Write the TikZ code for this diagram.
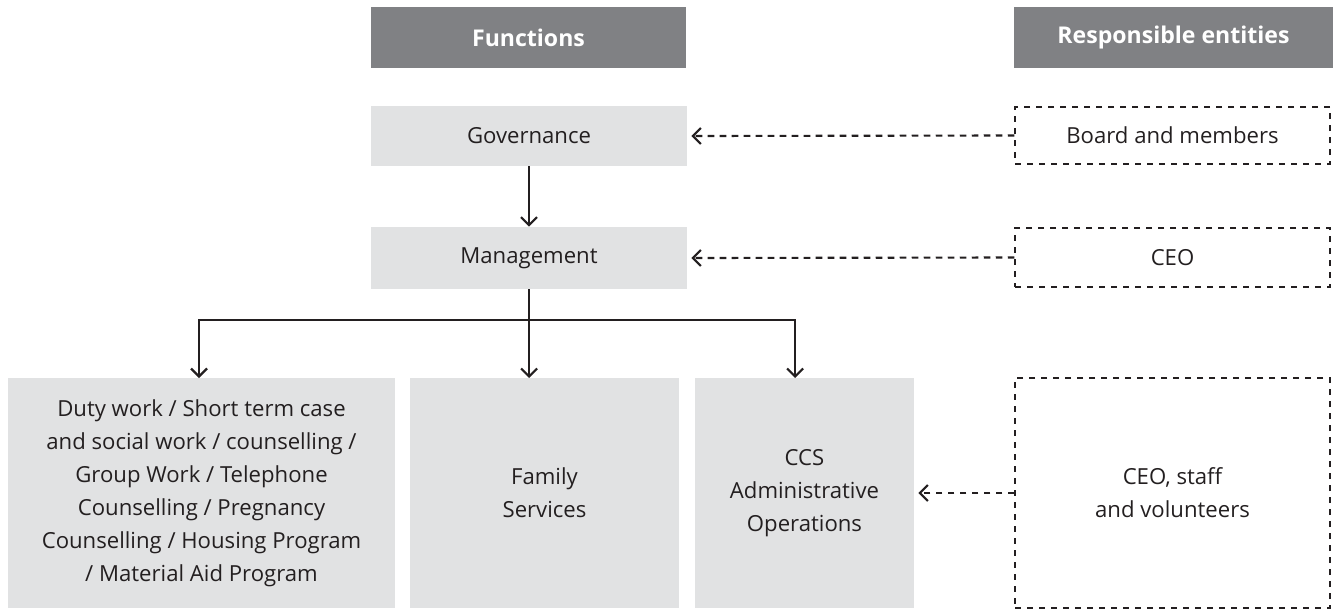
\documentclass[tikz,border=0pt]{standalone}
\usepackage{fontspec}
\setmainfont{Open Sans}
\usetikzlibrary{arrows.meta}

\newlength{\du}
\setlength{\du}{0.75pt}

\definecolor{headgray}{RGB}{128,129,132}
\definecolor{boxgray}{RGB}{225,226,227}
\definecolor{inkcolor}{RGB}{35,31,32}

\tikzset{
  header/.style={fill=headgray, text=white, font=\fontsize{17.3}{20}\selectfont\bfseries,
    inner sep=0pt, minimum height=61\du},
  funcbox/.style={fill=boxgray, text=inkcolor, align=center, inner sep=0pt,
    font=\fontsize{16.6}{24.75}\selectfont},
  entitybox/.style={draw=inkcolor, line width=0.9pt, dash pattern=on 4.5pt off 4.5pt,
    text=inkcolor, align=center, inner sep=0pt, font=\fontsize{16.6}{24.75}\selectfont},
  flow/.style={draw=inkcolor, line width=1.6pt, -{Straight Barb[length=6pt,width=12pt,line width=1.6pt]}},
  duty/.style={draw=inkcolor, line width=1.6pt, dash pattern=on 5pt off 4pt,
    -{Straight Barb[length=6pt,width=12pt,line width=1.6pt]}, shorten >=4\du}
}

\begin{document}
\begin{tikzpicture}[x=\du, y=-\du]
\useasboundingbox (0,0) rectangle (1333,611);

% headers
\node[header, minimum width=315\du] (hfunc) at (528.5,37.5) {Functions};
\node[header, minimum width=319\du] (hresp) at (1173.5,37.5) {Responsible entities};

% functions
\node[funcbox, minimum width=316\du, minimum height=60\du] (gov) at (529,136) {Governance};
\node[funcbox, minimum width=316\du, minimum height=62\du] (mgmt) at (529,258) {Management};
\node[funcbox, minimum width=387\du, minimum height=230\du] (duty) at (201.5,493)
  {Duty work / Short term case\\and social work / counselling /\\Group Work / Telephone\\Counselling / Pregnancy\\Counselling / Housing Program\\/ Material Aid Program};
\node[funcbox, minimum width=269\du, minimum height=230\du] (family) at (544.5,493) {Family\\Services};
\node[funcbox, minimum width=219\du, minimum height=230\du] (ccs) at (804.5,493) {CCS\\Administrative\\Operations};

% responsible entities
\node[entitybox, minimum width=315\du, minimum height=57\du] (board) at (1172.5,135.5) {Board and members};
\node[entitybox, minimum width=315\du, minimum height=59\du] (ceo) at (1172.5,257.5) {CEO};
\node[entitybox, minimum width=315\du, minimum height=230\du] (staff) at (1172.5,493) {CEO, staff\\and volunteers};

% hierarchy
\draw[flow] (gov.south) -- (mgmt.north);
\coordinate (split) at (529,320);
\coordinate (dutytop) at (199,378);
\coordinate (familytop) at (529,378);
\coordinate (ccstop) at (795,378);
\draw[line width=1.6pt, draw=inkcolor] (mgmt.south) -- (split);
\draw[flow] (split) -| (dutytop);
\draw[flow] (split) -- (familytop);
\draw[flow] (split) -| (ccstop);

% responsibility
\draw[duty] (board.west) -- (gov.east);
\draw[duty] (ceo.west) -- (mgmt.east);
\draw[duty] (staff.west) -- (ccs.east);
\end{tikzpicture}
\end{document}
